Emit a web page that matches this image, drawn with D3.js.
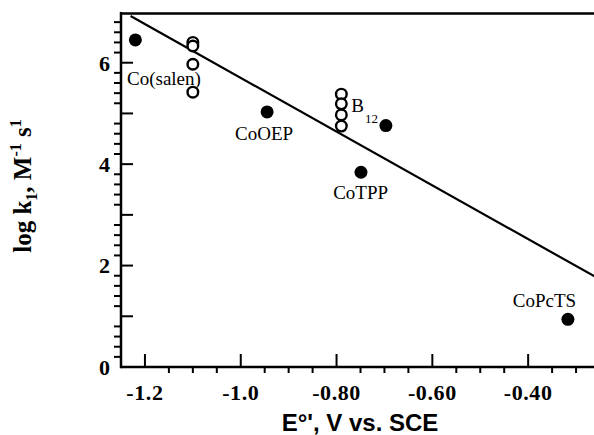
<!DOCTYPE html>
<html>
<head>
<meta charset="utf-8">
<script src="https://cdn.jsdelivr.net/npm/d3@7"></script>
<style>
  html, body { margin: 0; padding: 0; background: #fff; }
  svg { display: block; }
</style>
</head>
<body>
<svg id="chart" width="594" height="435"></svg>
<script>
// ---- data ----
const filledNames = ["Co(salen)-ref", "CoOEP", "B12", "CoTPP", "CoPcTS"];
const filledX = [-1.22, -0.945, -0.697, -0.749, -0.317];
const filledY = [6.45, 5.03, 4.76, 3.84, 0.94];

const openX = [-1.10, -1.10, -1.10, -1.10, -0.79, -0.79, -0.79, -0.79];
const openY = [6.40, 6.33, 5.97, 5.42, 5.38, 5.19, 4.97, 4.75];

const fitX = [-1.23, -0.26];
const fitY = [6.92, 1.78];

const xTickValues = [-1.2, -1.0, -0.8, -0.6, -0.4];
const xTickLabels = ["-1.2", "-1.0", "-0.80", "-0.60", "-0.40"];
const yTickValues = [0, 2, 4, 6];
const yTickLabels = ["0", "2", "4", "6"];

const labelText = ["Co(salen)", "CoOEP", "CoTPP", "CoPcTS"];
const labelX = [-1.2375, -1.012, -0.807, -0.432];
const labelY = [5.56, 4.48, 3.32, 1.18];

// ---- layout ----
const svg = d3.select("#chart");
const x = d3.scaleLinear().domain([-1.25, -0.25]).range([121, 600]);
const y = d3.scaleLinear().domain([0, 7]).range([367, 12]);

const serif = "'Palatino Linotype', 'Book Antiqua', Palatino, 'Liberation Serif', 'DejaVu Serif', serif";
const x0 = x(-1.25), y0 = y(0);

// top frame line
svg.append("line")
  .attr("x1", x0).attr("x2", 594).attr("y1", y(7) + 1.5).attr("y2", y(7) + 1.5)
  .attr("stroke", "#000").attr("stroke-width", 2.5);

// x ticks: majors inward, minors outward
const xMinor = d3.range(-1.2, -0.25, 0.05).map(v => +v.toFixed(2))
  .filter(v => !xTickValues.some(t => Math.abs(t - v) < 1e-6));
svg.append("g").selectAll("line").data(xMinor).enter().append("line")
  .attr("x1", d => x(d)).attr("x2", d => x(d))
  .attr("y1", y0).attr("y2", y0 + 6)
  .attr("stroke", "#000").attr("stroke-width", 2);
svg.append("g").selectAll("line").data(xTickValues).enter().append("line")
  .attr("x1", d => x(d)).attr("x2", d => x(d))
  .attr("y1", y0).attr("y2", y0 - 13)
  .attr("stroke", "#000").attr("stroke-width", 2);
svg.append("line").attr("x1", x0).attr("x2", 594).attr("y1", y0).attr("y2", y0)
  .attr("stroke", "#000").attr("stroke-width", 2.5);
svg.append("g").selectAll("text").data(xTickValues).enter().append("text")
  .attr("x", d => x(d)).attr("y", 400)
  .attr("text-anchor", "middle").attr("fill", "#000")
  .style("font-family", serif).style("font-weight", "bold").style("font-size", "22px")
  .style("letter-spacing", "0.6px")
  .text((d, i) => xTickLabels[i]);

// y ticks: majors (every 1) inward, minors (every 0.2) outward
const yMajor = d3.range(1, 7);
const yMinor = d3.range(0.2, 6.95, 0.2).map(v => +v.toFixed(2))
  .filter(v => Math.abs(v - Math.round(v)) > 1e-6);
svg.append("g").selectAll("line").data(yMinor).enter().append("line")
  .attr("x1", x0).attr("x2", x0 - 7)
  .attr("y1", d => y(d)).attr("y2", d => y(d))
  .attr("stroke", "#000").attr("stroke-width", 2);
svg.append("g").selectAll("line").data(yMajor).enter().append("line")
  .attr("x1", x0).attr("x2", x0 + 12)
  .attr("y1", d => y(d)).attr("y2", d => y(d))
  .attr("stroke", "#000").attr("stroke-width", 2);
svg.append("line").attr("x1", x0).attr("x2", x0).attr("y1", y(7)).attr("y2", y0 + 1.25)
  .attr("stroke", "#000").attr("stroke-width", 2.5);
svg.append("g").selectAll("text").data(yTickValues).enter().append("text")
  .attr("x", x0 - 11).attr("y", d => y(d)).attr("dy", "0.36em")
  .attr("text-anchor", "end").attr("fill", "#000")
  .style("font-family", serif).style("font-weight", "bold").style("font-size", "22px")
  .text((d, i) => yTickLabels[i]);

// axis titles
svg.append("text")
  .attr("x", 360).attr("y", 431).attr("text-anchor", "middle").attr("fill", "#000")
  .style("font-family", "Arial, 'Liberation Sans', sans-serif").style("font-weight", "bold").style("font-size", "24px")
  .text("E\u00B0', V vs. SCE");

const yt = svg.append("text")
  .attr("transform", "translate(31,186) rotate(-90)")
  .attr("text-anchor", "middle").attr("fill", "#000")
  .style("font-family", serif).style("font-weight", "bold").style("font-size", "25px");
yt.append("tspan").text("log k");
yt.append("tspan").attr("dy", 6).style("font-size", "16px").text("1");
yt.append("tspan").attr("dy", -6).text(", M");
yt.append("tspan").attr("dy", -10).style("font-size", "16px").text("-1");
yt.append("tspan").attr("dy", 10).text(" s");
yt.append("tspan").attr("dy", -10).style("font-size", "16px").text("1");

// fit line
svg.append("line")
  .attr("x1", x(fitX[0])).attr("y1", y(fitY[0]))
  .attr("x2", x(fitX[1])).attr("y2", y(fitY[1]))
  .attr("stroke", "#000").attr("stroke-width", 2.2);

// open circles
svg.append("g").selectAll("circle").data(openX).enter().append("circle")
  .attr("cx", d => x(d)).attr("cy", (d, i) => y(openY[i]))
  .attr("r", 5.3).attr("fill", "#fff").attr("stroke", "#000").attr("stroke-width", 2.4);

// filled circles
svg.append("g").selectAll("circle").data(filledX).enter().append("circle")
  .attr("cx", d => x(d)).attr("cy", (d, i) => y(filledY[i]))
  .attr("r", 6.5).attr("fill", "#000");

// labels
svg.append("g").selectAll("text").data(labelText).enter().append("text")
  .attr("x", (d, i) => x(labelX[i])).attr("y", (d, i) => y(labelY[i]))
  .attr("text-anchor", "start").attr("fill", "#000")
  .style("font-family", serif).style("font-size", "19px")
  .text(d => d);

const b12 = svg.append("text")
  .attr("x", x(-0.79) + 10).attr("y", y(5.02)).attr("fill", "#000")
  .style("font-family", serif).style("font-size", "19px");
b12.append("tspan").text("B");
b12.append("tspan").attr("dy", 11).attr("dx", 1).style("font-size", "13px").text("12");
</script>
</body>
</html>
